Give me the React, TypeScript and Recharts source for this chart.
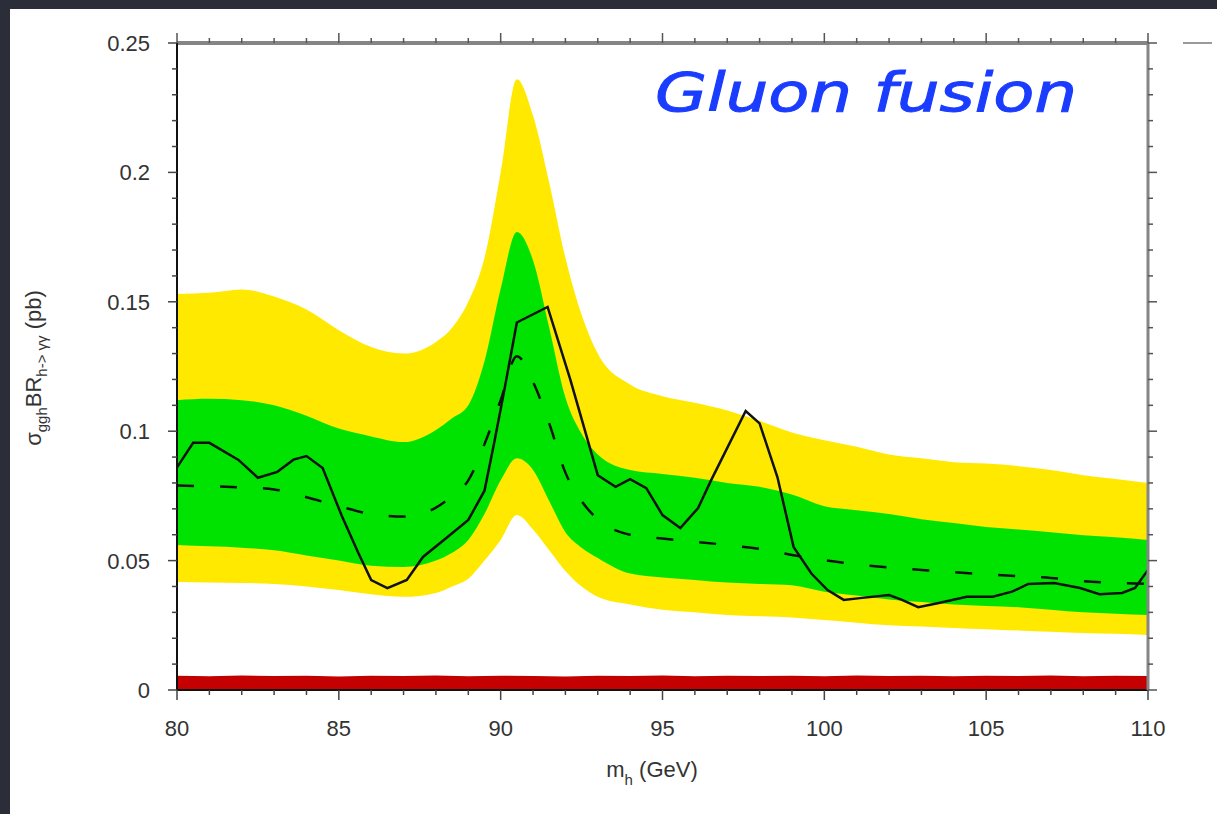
import { ComposedChart, Area, Line, XAxis, YAxis } from "recharts";

// expected-limit bands, sampled on one mass grid
const bandMass = [80, 81, 82, 83, 84, 85, 86, 87, 88, 88.5, 89, 89.5, 90, 90.5, 91, 91.5, 92, 92.5, 93, 94, 95, 96, 97, 98, 99, 100, 101, 102, 103, 104, 105, 106, 107, 108, 109, 110];
const yellowHigh = [0.153, 0.1535, 0.1548, 0.152, 0.147, 0.139, 0.1325, 0.13, 0.1345, 0.14, 0.15, 0.167, 0.2, 0.236, 0.222, 0.196, 0.167, 0.145, 0.13, 0.118, 0.1135, 0.111, 0.108, 0.104, 0.0995, 0.0965, 0.094, 0.091, 0.0895, 0.088, 0.0875, 0.0865, 0.085, 0.083, 0.0815, 0.08];
const greenHigh = [0.112, 0.1125, 0.112, 0.11, 0.106, 0.101, 0.098, 0.0958, 0.1005, 0.105, 0.11, 0.127, 0.155, 0.177, 0.166, 0.14, 0.113, 0.099, 0.091, 0.085, 0.0835, 0.082, 0.08, 0.0785, 0.0755, 0.071, 0.0695, 0.068, 0.066, 0.0645, 0.063, 0.062, 0.061, 0.0598, 0.059, 0.058];
const greenLow = [0.056, 0.0555, 0.055, 0.054, 0.052, 0.05, 0.048, 0.0475, 0.05, 0.053, 0.058, 0.068, 0.081, 0.0895, 0.085, 0.073, 0.061, 0.055, 0.051, 0.045, 0.0435, 0.0425, 0.0415, 0.041, 0.0405, 0.038, 0.0365, 0.035, 0.034, 0.033, 0.0325, 0.032, 0.031, 0.03, 0.0295, 0.029];
const yellowLow = [0.0417, 0.0415, 0.0413, 0.041, 0.04, 0.0386, 0.037, 0.036, 0.0375, 0.04, 0.043, 0.05, 0.058, 0.0676, 0.062, 0.054, 0.046, 0.04, 0.036, 0.033, 0.031, 0.03, 0.029, 0.0285, 0.028, 0.027, 0.026, 0.025, 0.0245, 0.024, 0.0235, 0.023, 0.0225, 0.022, 0.0217, 0.0213];
const expected = [0.079, 0.0787, 0.0783, 0.0775, 0.0745, 0.071, 0.068, 0.067, 0.0705, 0.075, 0.081, 0.095, 0.112, 0.129, 0.119, 0.103, 0.084, 0.073, 0.066, 0.06, 0.0585, 0.0573, 0.056, 0.0545, 0.0522, 0.0502, 0.0485, 0.0473, 0.0464, 0.0455, 0.0447, 0.044, 0.0433, 0.042, 0.0414, 0.041];

// observed limit
const obsMass = [80, 80.5, 81, 81.9, 82.5, 83.1, 83.6, 84, 84.5, 85.1, 85.6, 86, 86.5, 87.1, 87.6, 88.35, 89, 89.5, 89.8, 90.1, 90.5, 91.45, 92.15, 93, 93.55, 94, 94.5, 95, 95.55, 96.1, 96.5, 97.57, 98, 98.55, 99.05, 99.6, 100.1, 100.6, 101.1, 102, 102.4, 102.9, 103.5, 104.4, 105.2, 105.8, 106.3, 107.1, 107.9, 108.5, 109.2, 109.6, 110];
const observed = [0.086, 0.0955, 0.0955, 0.0889, 0.082, 0.0843, 0.089, 0.0904, 0.0858, 0.067, 0.053, 0.0425, 0.0394, 0.0425, 0.0514, 0.059, 0.0657, 0.077, 0.0955, 0.115, 0.142, 0.148, 0.12, 0.083, 0.0785, 0.0815, 0.078, 0.0676, 0.0626, 0.0703, 0.081, 0.1078, 0.103, 0.0823, 0.0553, 0.045, 0.0386, 0.0348, 0.0355, 0.0367, 0.0348, 0.032, 0.0335, 0.036, 0.036, 0.038, 0.041, 0.0413, 0.0394, 0.037, 0.0375, 0.0394, 0.0464];

// red strip along zero
const redMass = [80, 81, 82, 83, 84, 85, 86, 87, 88, 89, 90, 91, 92, 93, 94, 95, 96, 97, 98, 99, 100, 101, 102, 103, 104, 105, 106, 107, 108, 109, 110];
const redTop = [0.0052, 0.005, 0.0053, 0.0051, 0.0052, 0.0049, 0.0052, 0.0051, 0.0053, 0.005, 0.0052, 0.0051, 0.0049, 0.0052, 0.0051, 0.0053, 0.005, 0.0052, 0.0051, 0.0052, 0.005, 0.0053, 0.0051, 0.0052, 0.005, 0.0052, 0.0051, 0.0053, 0.005, 0.0052, 0.0051];

const xTicks = [80, 81, 82, 83, 84, 85, 86, 87, 88, 89, 90, 91, 92, 93, 94, 95, 96, 97, 98, 99, 100, 101, 102, 103, 104, 105, 106, 107, 108, 109, 110];
const xMajor = [80, 85, 90, 95, 100, 105, 110];
const yTicks = [0, 0.01, 0.02, 0.03, 0.04, 0.05, 0.06, 0.07, 0.08, 0.09, 0.1, 0.11, 0.12, 0.13, 0.14, 0.15, 0.16, 0.17, 0.18, 0.19, 0.2, 0.21, 0.22, 0.23, 0.24, 0.25];
const yMajor = [0, 0.05, 0.1, 0.15, 0.2, 0.25];
const yMajorLabels = ["0", "0.05", "0.1", "0.15", "0.2", "0.25"];

const FONT = "'Liberation Sans', Arial, Helvetica, sans-serif";
const TXT = "#333";

const bandData = bandMass.map((m, i) => ({
  mass: m,
  yellow: [yellowLow[i], yellowHigh[i]],
  green: [greenLow[i], greenHigh[i]],
  expected: expected[i],
}));
const obsData = obsMass.map((m, i) => ({ mass: m, observed: observed[i] }));
const redData = redMass.map((m, i) => ({ mass: m, red: [0, redTop[i]] }));

const yIdx = (v: number) => yMajor.findIndex((t) => Math.abs(t - v) < 1e-9);

function BottomTick(props: any) {
  const { x, y, payload } = props;
  const major = xMajor.includes(payload.value);
  return (
    <g>
      <line x1={x} x2={x} y1={y} y2={y + (major ? 10 : 5)} stroke="#444" strokeWidth={1.5} />
      {major && (
        <text x={x} y={y + 46} textAnchor="middle" fontSize={22} fill={TXT} fontFamily={FONT}>
          {payload.value}
        </text>
      )}
    </g>
  );
}

function TopTick(props: any) {
  const { x, y, payload } = props;
  const major = xMajor.includes(payload.value);
  return <line x1={x} x2={x} y1={y} y2={y - (major ? 10 : 5)} stroke="#555" strokeWidth={1.5} />;
}

function LeftTick(props: any) {
  const { x, y, payload } = props;
  const i = yIdx(payload.value);
  return (
    <g>
      <line x1={x} x2={x - (i >= 0 ? 9 : 5)} y1={y} y2={y} stroke="#444" strokeWidth={1.5} />
      {i >= 0 && (
        <text x={x - 27} y={y + 8} textAnchor="end" fontSize={22} fill={TXT} fontFamily={FONT}>
          {yMajorLabels[i]}
        </text>
      )}
    </g>
  );
}

function RightTick(props: any) {
  const { x, y, payload } = props;
  const i = yIdx(payload.value);
  return <line x1={x} x2={x + (i >= 0 ? 9 : 5)} y1={y} y2={y} stroke="#555" strokeWidth={1.5} />;
}

export default function App() {
  return (
    <div
      style={{
        position: "absolute",
        left: 0,
        top: 0,
        width: 1217,
        height: 814,
        background: "#2b2e39",
        overflow: "hidden",
      }}
    >
      <div style={{ position: "absolute", left: 10, top: 9, right: 0, bottom: 0, background: "#ffffff" }} />
      <div style={{ position: "absolute", left: 0, top: 0 }}>
        <ComposedChart width={1217} height={814} margin={{ top: 42, right: 68, bottom: 0, left: 0 }}>
          <XAxis
            dataKey="mass"
            type="number"
            domain={[80, 110]}
            ticks={xTicks}
            interval={0}
            height={124}
            tickSize={0}
            tickMargin={0}
            tickLine={false}
            axisLine={{ stroke: "#111", strokeWidth: 2 }}
            tick={BottomTick}
            allowDataOverflow
          />
          <XAxis
            xAxisId="top"
            orientation="top"
            dataKey="mass"
            type="number"
            domain={[80, 110]}
            ticks={xTicks}
            interval={0}
            height={1}
            tickSize={0}
            tickMargin={0}
            tickLine={false}
            axisLine={{ stroke: "#858585", strokeWidth: 4 }}
            tick={TopTick}
            allowDataOverflow
          />
          <YAxis
            type="number"
            domain={[0, 0.25]}
            ticks={yTicks}
            interval={0}
            width={177}
            tickSize={0}
            tickMargin={0}
            tickLine={false}
            axisLine={{ stroke: "#111", strokeWidth: 2 }}
            tick={LeftTick}
            allowDataOverflow
          />
          <YAxis
            yAxisId="right"
            orientation="right"
            type="number"
            domain={[0, 0.25]}
            ticks={yTicks}
            interval={0}
            width={1}
            tickSize={0}
            tickMargin={0}
            tickLine={false}
            axisLine={{ stroke: "#858585", strokeWidth: 3 }}
            tick={RightTick}
            allowDataOverflow
          />
          <Area
            data={bandData}
            dataKey="yellow"
            type="monotone"
            stroke="none"
            fill="#ffe900"
            fillOpacity={1}
            isAnimationActive={false}
            activeDot={false}
          />
          <Area
            data={bandData}
            dataKey="green"
            type="monotone"
            stroke="none"
            fill="#00e300"
            fillOpacity={1}
            isAnimationActive={false}
            activeDot={false}
          />
          <Area
            data={redData}
            dataKey="red"
            type="linear"
            stroke="#c00000"
            strokeWidth={1.5}
            fill="#c40000"
            fillOpacity={1}
            isAnimationActive={false}
            activeDot={false}
          />
          <Line
            data={bandData}
            dataKey="expected"
            type="monotone"
            stroke="#111"
            strokeWidth={2.5}
            strokeDasharray="17 26"
            dot={false}
            activeDot={false}
            isAnimationActive={false}
          />
          <Line
            data={obsData}
            dataKey="observed"
            type="linear"
            stroke="#111"
            strokeWidth={2.5}
            dot={false}
            activeDot={false}
            isAnimationActive={false}
          />
          {/* invisible series so the top and right frame axes get drawn */}
          <Line
            data={bandData}
            dataKey="expected"
            xAxisId="top"
            yAxisId="right"
            stroke="transparent"
            strokeWidth={0}
            dot={false}
            activeDot={false}
            isAnimationActive={false}
            legendType="none"
          />
        </ComposedChart>
      </div>
      <svg
        width={1217}
        height={814}
        style={{ position: "absolute", left: 0, top: 0, pointerEvents: "none" }}
      >
        <line x1={1183} x2={1212} y1={43} y2={43} stroke="#9a9a9a" strokeWidth={2} />
        <text
          x={655}
          y={111}
          fontSize={54}
          fill="#1a3cff"
          stroke="#1a3cff"
          strokeWidth={1}
          fontStyle="italic"
          fontFamily="'Comic Sans MS', 'DejaVu Sans', cursive"
          textLength={422}
          lengthAdjust="spacingAndGlyphs"
        >
          Gluon fusion
        </text>
        <text x={652} y={777} textAnchor="middle" fontSize={22} fill={TXT} fontFamily={FONT}>
          m<tspan fontSize={15} dy={8}>h</tspan>
          <tspan dy={-8}> (GeV)</tspan>
        </text>
        <text
          transform="translate(41, 368) rotate(-90)"
          textAnchor="middle"
          fontSize={22}
          fill={TXT}
          fontFamily={FONT}
        >
          σ<tspan fontSize={15} dy={6}>ggh</tspan>
          <tspan dy={-6}>BR</tspan>
          <tspan fontSize={15} dy={6}>h-&gt; γγ</tspan>
          <tspan dy={-6}> (pb)</tspan>
        </text>
      </svg>
    </div>
  );
}
